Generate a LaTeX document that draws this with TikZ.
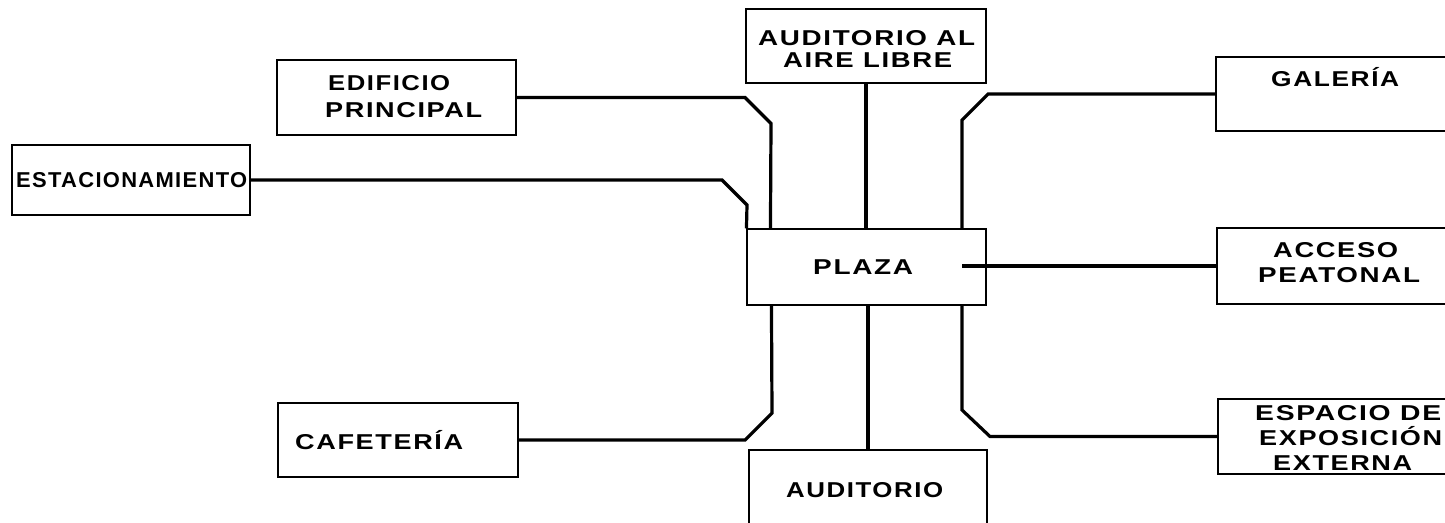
\documentclass[tikz,border=0pt]{standalone}
\usepackage{fontspec}
\usepackage{graphicx}
\newfontfamily\lblfont{Liberation Sans Bold}[LetterSpace=6]
\newsavebox\fitbox
\newlength\fitlen
\newcommand\fitw[2]{\sbox\fitbox{#2}\setlength\fitlen{\wd\fitbox}\pgfmathsetmacro\fitsx{#1/\fitlen}\scalebox{\fitsx}[1]{\usebox\fitbox}}
\tikzset{
  box/.style={draw, line width=1.1pt, inner sep=0pt},
  conn/.style={line width=3.2pt, line join=miter},
  lbl/.style={font=\lblfont\fontsize{21.5}{25}\selectfont, inner sep=0pt, anchor=base west}
}
\begin{document}
\begin{tikzpicture}[x=1pt,y=-1pt]
\useasboundingbox (0,0) rectangle (1445,522);
\clip (0,0) rectangle (1445,522);
% boxes
\node[box, minimum width=239pt, minimum height=75pt] (edif) at (396.5,97.5) {};
\node[box, minimum width=238pt, minimum height=70pt] (estac) at (131,180) {};
\node[box, minimum width=240pt, minimum height=74pt] (aire) at (866,46) {};
\node[box, minimum width=239pt, minimum height=76pt] (plaza) at (866.5,267) {};
\node[box, minimum width=264pt, minimum height=74pt] (galeria) at (1348,94) {};
\node[box, minimum width=263pt, minimum height=76pt] (acceso) at (1348.5,266) {};
\node[box, minimum width=240pt, minimum height=74pt] (cafe) at (398,440) {};
\node[box, minimum width=238pt, minimum height=110pt] (audit) at (868,505) {};
\node[box, minimum width=262pt, minimum height=75pt] (espacio) at (1349,436.5) {};
% labels
\node[lbl] (tedif1) at (328,90.7) {\fitw{122}{EDIFICIO}};
\node[lbl] (tedif2) at (325,117.7) {\fitw{157}{PRINCIPAL}};
\node[lbl] (testac) at (16,187.7) {\fitw{231}{ESTACIONAMIENTO}};
\node[lbl] (taire1) at (758,45.7) {\fitw{217}{AUDITORIO AL}};
\node[lbl] (taire2) at (783,67.7) {\fitw{169}{AIRE LIBRE}};
\node[lbl] (tplaza) at (813,274.7) {\fitw{100}{PLAZA}};
\node[lbl] (tgal) at (1271,86.7) {\fitw{128}{GALERÍA}};
\node[lbl] (tacc1) at (1273,257.7) {\fitw{125}{ACCESO}};
\node[lbl] (tacc2) at (1258,282.7) {\fitw{162}{PEATONAL}};
\node[lbl] (tcafe) at (295,449.7) {\fitw{168}{CAFETERÍA}};
\node[lbl] (taud) at (786,497.7) {\fitw{157}{AUDITORIO}};
\node[lbl] (tesp1) at (1255,420.7) {\fitw{186}{ESPACIO DE}};
\node[lbl] (tesp2) at (1259,445.7) {\fitw{183}{EXPOSICIÓN}};
\node[lbl] (tesp3) at (1273,470.7) {\fitw{139}{EXTERNA}};
% connectors
\coordinate (accstart) at (962,266);
\draw[conn] (edif.east) -- (745,97.5) -- (771,123.5) -- ([xshift=24pt]plaza.north west);
\draw[conn] (estac.east) -- (722,180) -- (747,205) -- (plaza.north west);
\draw[conn] (aire.south) -- (aire.south |- plaza.north);
\draw[conn] (galeria.west) -- (988,94) -- (962,120) -- ([xshift=-24.5pt]plaza.north east);
\draw[conn] (accstart) -- (acceso.west);
\draw[conn] (cafe.east) -- (745,440) -- (772,413) -- ([xshift=25pt]plaza.south west);
\draw[conn] (audit.north |- plaza.south) -- (audit.north);
\draw[conn] (espacio.west) -- (990,436.5) -- (962,410) -- ([xshift=-24.5pt]plaza.south east);
\end{tikzpicture}
\end{document}
